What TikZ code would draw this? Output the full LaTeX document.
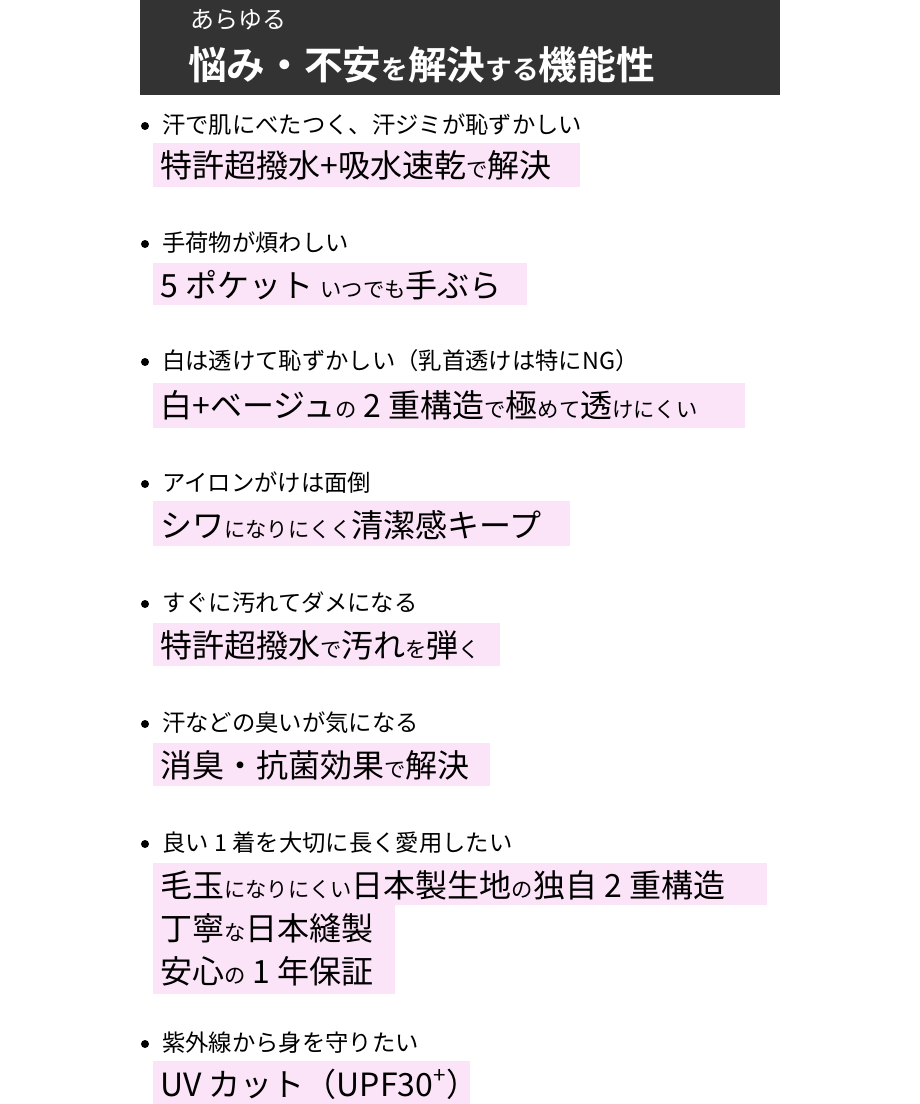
\documentclass[tikz,border=0pt]{standalone}
\usepackage{fontspec}
\setmainfont{Noto Sans CJK JP}[BoldFont={* Bold}]
\definecolor{hdr}{HTML}{333333}
\definecolor{hl}{HTML}{FCE4F8}
\newcommand{\smj}[1]{{\fontsize{16}{19}\selectfont #1}}
\newcommand{\tsm}[1]{{\fontsize{20}{24}\selectfont #1}}
\begin{document}
\begin{tikzpicture}[x=0.75pt,y=-0.75pt,
  big/.style={anchor=base west,inner sep=0pt,font=\fontsize{24}{28}\selectfont},
  captext/.style={anchor=base west,inner sep=0pt,font=\fontsize{17.5}{20}\selectfont},
  dot/.style={circle,fill=black,inner sep=0pt,minimum size=6pt}]
\useasboundingbox (0,0) rectangle (920,1104);
\fill[hdr] (140,0) rectangle (780,95);
\node[anchor=base west,inner sep=0pt,text=white,font=\fontsize{18}{20}\selectfont] (t1) at (190,28) {あらゆる};
\node[anchor=base west,inner sep=0pt,text=white,font=\fontsize{29}{32}\selectfont\bfseries] (t2) at (188,79) {悩み・不安\tsm{を}解決\tsm{する}機能性};
\foreach \y/\w/\h in {143/580/44,263/527/42,383/745/45,501/570/45,623/500/43,743/490/43,1061/470/43}{
  \fill[hl] (153,\y) rectangle (\w,\y+\h);
}
\fill[hl] (153,863) rectangle (767,905);
\fill[hl] (153,905) rectangle (395,994);
\foreach \n/\y in {1/133,2/251,3/369,4/491,5/611,6/731,7/851,8/1051}{
  \node[dot] (d\n) at (145,\y-7) {};
}
\node[captext] (c1) at (162,133) {汗で肌にべたつく、汗ジミが恥ずかしい};
\node[big] (b1) at (160,177) {特許超撥水+吸水速乾\smj{で}解決};
\node[captext] (c2) at (162,251) {手荷物が煩わしい};
\node[big] (b2) at (160,297) {5 ポケット \smj{いつでも}手ぶら};
\node[captext] (c3) at (162,369) {白は透けて恥ずかしい（乳首透けは特にNG）};
\node[big] (b3) at (160,417) {白+ベージュ\smj{の} 2 重構造\smj{で}極\smj{めて}透\smj{けにくい}};
\node[captext] (c4) at (162,491) {アイロンがけは面倒};
\node[big] (b4) at (160,537) {シワ\smj{になりにくく}清潔感キープ};
\node[captext] (c5) at (162,611) {すぐに汚れてダメになる};
\node[big] (b5) at (160,657) {特許超撥水\smj{で}汚れ\smj{を}弾\smj{く}};
\node[captext] (c6) at (162,731) {汗などの臭いが気になる};
\node[big] (b6) at (160,777) {消臭・抗菌効果\smj{で}解決};
\node[captext] (c7) at (162,851) {良い 1 着を大切に長く愛用したい};
\node[big] (b7) at (160,897) {毛玉\smj{になりにくい}日本製生地\smj{の}独自 2 重構造};
\node[big] (b7b) at (160,940) {丁寧\smj{な}日本縫製};
\node[big] (b7c) at (160,983) {安心\smj{の} 1 年保証};
\node[captext] (c8) at (162,1051) {紫外線から身を守りたい};
\node[big] (b8) at (160,1096) {UV カット（UPF30\textsuperscript{+}）};
\end{tikzpicture}
\end{document}
